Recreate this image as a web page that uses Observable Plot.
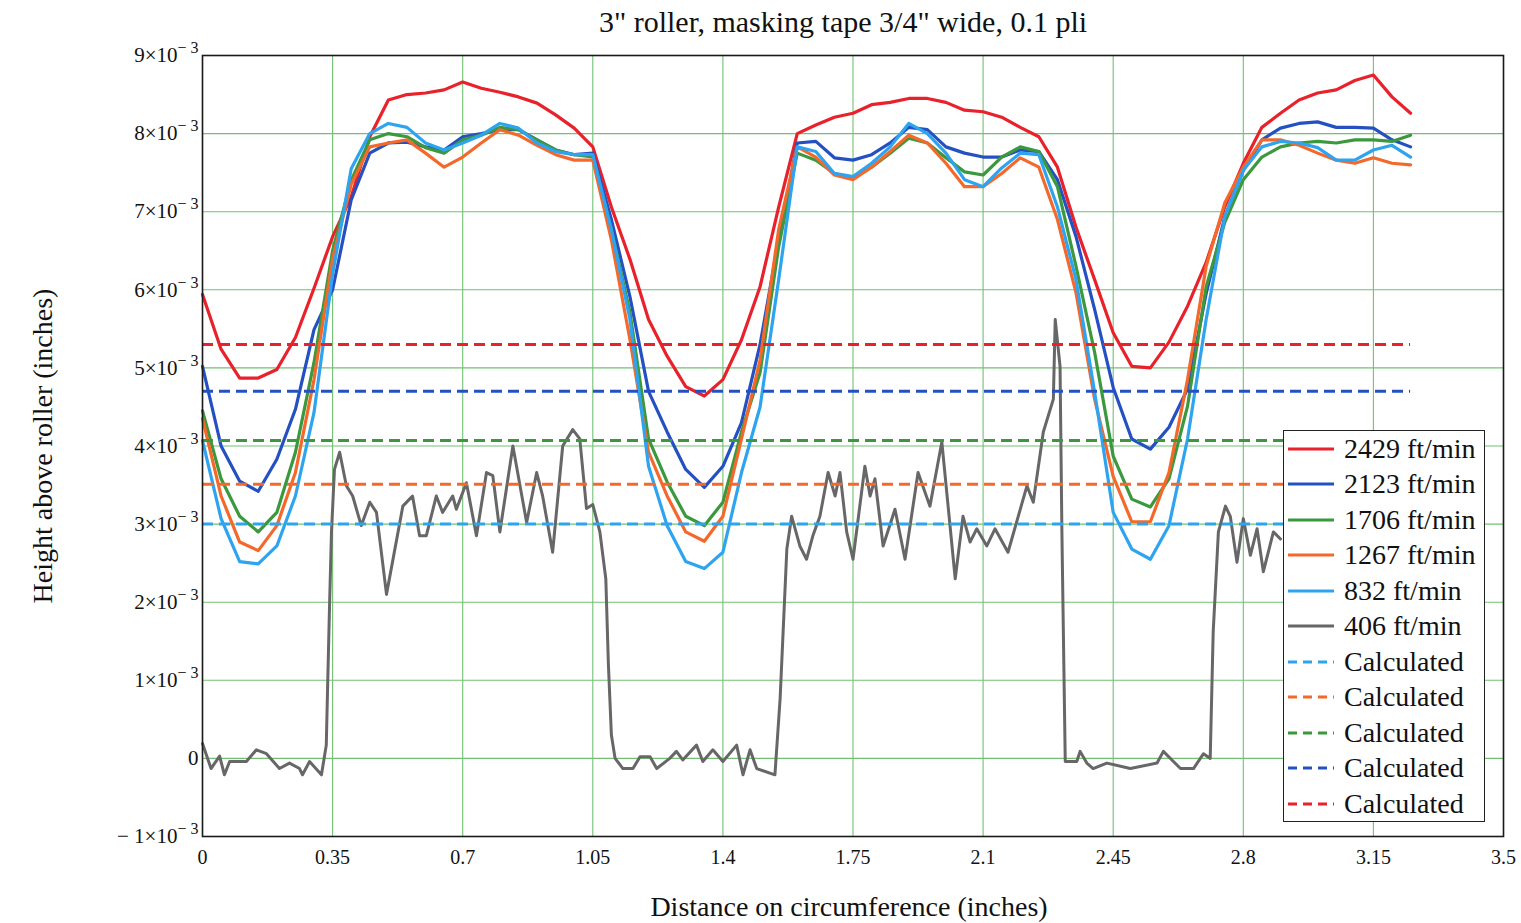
<!DOCTYPE html>
<html><head><meta charset="utf-8">
<script src="https://cdn.jsdelivr.net/npm/d3@7"></script>
<script src="https://cdn.jsdelivr.net/npm/@observablehq/plot@0.6"></script>
<style>
body{margin:0;background:#fff;}
#wrap{position:relative;width:1521px;height:923px;overflow:hidden;font-family:"Liberation Serif",serif;}
#legend{position:absolute;left:1283px;top:430px;width:200px;height:390px;border:1.5px solid #222;background:#fff;box-sizing:content-box;}
.row{height:35.5px;display:flex;align-items:center;font-size:28px;color:#111;}
.row svg{margin-left:4px;margin-right:10px;flex:none;}
</style></head>
<body><div id="wrap"><div id="chart"></div><div id="legend"></div></div>
<script>
// Distance on circumference (inches) sample positions for the measured traces
const dist = [0,0.05,0.1,0.15,0.2,0.25,0.3,0.35,0.4,0.45,0.5,0.55,0.6,0.65,0.7,0.75,0.8,0.85,0.9,0.95,
  1,1.05,1.1,1.15,1.2,1.25,1.3,1.35,1.4,1.45,1.5,1.55,1.6,1.65,1.7,1.75,1.8,1.85,1.9,1.95,
  2,2.05,2.1,2.15,2.2,2.25,2.3,2.35,2.4,2.45,2.5,2.55,2.6,2.65,2.7,2.75,2.8,2.85,2.9,2.95,
  3,3.05,3.1,3.15,3.2,3.25];
// Heights above roller, in units of 10^-3 inch
const h2429 = [5.94,5.24,4.87,4.87,4.98,5.39,6.02,6.68,7.19,7.96,
 8.43,8.50,8.52,8.56,8.66,8.58,8.53,8.47,8.39,8.24,
 8.07,7.83,7.06,6.39,5.62,5.15,4.76,4.64,4.85,5.36,
 6.04,7.06,8.00,8.11,8.21,8.26,8.37,8.40,8.45,8.45,
 8.40,8.30,8.28,8.21,8.08,7.96,7.57,6.80,6.13,5.45,
 5.02,5.00,5.33,5.79,6.35,7.06,7.62,8.08,8.26,8.43,
 8.52,8.56,8.68,8.75,8.47,8.26];
const h2123 = [5.02,4.00,3.55,3.42,3.83,4.47,5.49,6.00,7.15,7.75,
 7.88,7.89,7.83,7.79,7.96,8.00,8.05,8.05,7.92,7.79,
 7.73,7.75,6.90,5.91,4.70,4.18,3.70,3.47,3.74,4.30,
 5.30,6.64,7.88,7.90,7.69,7.66,7.73,7.88,8.08,8.05,
 7.83,7.75,7.70,7.70,7.79,7.77,7.41,6.68,5.75,4.75,
 4.09,3.96,4.24,4.73,5.95,6.93,7.53,7.92,8.07,8.13,
 8.15,8.08,8.08,8.07,7.92,7.83];
const h1706 = [4.45,3.58,3.10,2.90,3.15,3.92,5.07,6.50,7.40,7.92,
 8.00,7.96,7.82,7.75,7.92,7.98,8.08,8.05,7.92,7.79,
 7.73,7.70,6.77,5.71,4.09,3.54,3.10,2.98,3.28,4.18,
 4.94,6.55,7.75,7.66,7.49,7.43,7.57,7.75,7.94,7.88,
 7.69,7.51,7.47,7.70,7.83,7.77,7.32,6.30,5.20,3.87,
 3.32,3.22,3.58,4.51,6.04,6.86,7.41,7.70,7.83,7.88,
 7.90,7.88,7.92,7.92,7.90,7.98];
const h1267 = [4.35,3.36,2.77,2.66,2.98,3.66,4.85,6.40,7.35,7.83,
 7.88,7.92,7.75,7.57,7.70,7.88,8.05,7.98,7.85,7.73,
 7.66,7.66,6.64,5.36,3.92,3.36,2.90,2.78,3.10,4.09,
 5.10,6.77,7.83,7.70,7.47,7.41,7.57,7.77,7.98,7.88,
 7.62,7.32,7.32,7.49,7.69,7.57,6.90,5.96,4.60,3.61,
 3.03,3.03,3.66,4.85,6.30,7.11,7.57,7.92,7.92,7.85,
 7.75,7.66,7.62,7.69,7.62,7.60];
const h832 = [4.07,3.07,2.52,2.49,2.72,3.36,4.43,6.20,7.55,8.00,
 8.13,8.08,7.88,7.79,7.88,7.98,8.13,8.07,7.88,7.77,
 7.73,7.73,6.77,5.62,3.74,2.98,2.52,2.43,2.64,3.66,
 4.50,6.13,7.83,7.77,7.49,7.45,7.62,7.83,8.13,8.00,
 7.75,7.41,7.32,7.56,7.75,7.73,7.06,6.13,4.69,3.15,
 2.68,2.55,2.98,4.09,5.62,6.93,7.53,7.83,7.90,7.88,
 7.82,7.66,7.66,7.79,7.85,7.70];
// 406 ft/min trace (own sample positions)
const dist406 = [0,0.023,0.046,0.059,0.073,0.118,0.145,0.172,0.194,0.207,0.234,0.261,0.269,0.288,0.32,0.333,0.337,0.342,0.347,0.355,
 0.369,0.387,0.404,0.427,0.45,0.468,0.495,0.539,0.557,0.565,0.584,0.602,0.629,0.646,0.673,0.683,0.71,0.737,0.764,0.781,
 0.8,0.835,0.872,0.899,0.915,0.942,0.969,0.996,1.015,1.033,1.05,1.069,1.085,1.092,1.1,1.11,1.131,1.158,1.177,1.204,
 1.222,1.257,1.275,1.292,1.329,1.346,1.373,1.4,1.437,1.454,1.473,1.491,1.54,1.554,1.572,1.585,1.607,1.625,1.642,1.661,
 1.683,1.702,1.715,1.733,1.75,1.782,1.796,1.809,1.831,1.863,1.89,1.925,1.957,1.989,2.025,2.046,2.065,2.083,2.11,2.132,
 2.167,2.218,2.235,2.262,2.289,2.294,2.307,2.312,2.321,2.352,2.361,2.379,2.396,2.433,2.496,2.568,2.585,2.612,2.631,2.666,
 2.693,2.711,2.719,2.733,2.752,2.765,2.783,2.8,2.819,2.837,2.854,2.881,2.9];
const h406 = [0.19,-0.13,0.03,-0.21,-0.04,-0.04,0.11,0.06,-0.06,-0.13,-0.06,-0.13,-0.21,-0.04,-0.21,0.17,1.0,2.0,2.9,3.7,
 3.92,3.49,3.36,2.98,3.28,3.15,2.1,3.23,3.32,3.36,2.85,2.85,3.36,3.15,3.36,3.19,3.53,2.85,3.66,3.62,
 2.9,4.0,3.02,3.66,3.36,2.64,4.0,4.21,4.09,3.2,3.25,2.9,2.3,1.2,0.3,0,-0.13,-0.13,0.02,0.02,
 -0.13,0,0.09,-0.02,0.17,-0.04,0.11,-0.04,0.17,-0.21,0.11,-0.13,-0.21,0.77,2.68,3.1,2.72,2.55,2.85,3.1,
 3.66,3.36,3.66,2.9,2.55,3.74,3.36,3.58,2.72,3.19,2.55,3.66,3.23,4.05,2.3,3.1,2.77,2.94,2.72,2.94,
 2.64,3.49,3.28,4.18,4.6,5.62,5.02,2.9,-0.04,-0.04,0.09,-0.06,-0.13,-0.06,-0.13,-0.06,0.09,-0.04,-0.13,-0.13,
 0.06,0,1.62,2.9,3.23,3.1,2.51,3.07,2.6,2.94,2.39,2.9,2.81];
// Calculated heights (10^-3 in), same order as legend: 832, 1267, 1706, 2123, 2429
const calcHeights = [3.00, 3.51, 4.07, 4.70, 5.30];
const calcRange = [0, 3.25];

const xTicks = [0,0.35,0.7,1.05,1.4,1.75,2.1,2.45,2.8,3.15,3.5];
const xTickLabels = ["0","0.35","0.7","1.05","1.4","1.75","2.1","2.45","2.8","3.15","3.5"];
const yTicks = [-1,0,1,2,3,4,5,6,7,8,9];
const yTickLabels = ["\u2212 1\u00d710^\u2212 3","0","1\u00d710^\u2212 3","2\u00d710^\u2212 3","3\u00d710^\u2212 3","4\u00d710^\u2212 3","5\u00d710^\u2212 3","6\u00d710^\u2212 3","7\u00d710^\u2212 3","8\u00d710^\u2212 3","9\u00d710^\u2212 3"];

const seriesNames = ["2429 ft/min","2123 ft/min","1706 ft/min","1267 ft/min","832 ft/min","406 ft/min"];
const seriesColors = ["#e8212b","#2450c2","#3b983d","#f4692b","#2ea4f0","#676767"];
const calcColors = ["#2ea4f0","#f4692b","#3b983d","#2450c2","#e8212b"];
const titleText = "3\" roller, masking tape 3/4\" wide, 0.1 pli";
const xLabel = "Distance on circumference (inches)";
const yLabel = "Height above roller (inches)";

const measured = [h2429,h2123,h1706,h1267,h832];
const lineMarks = measured.map((arr,k) => Plot.line(arr.map((v,i)=>({x:dist[i],y:v})), {x:"x",y:"y",stroke:seriesColors[k],strokeWidth:3.2}));
lineMarks.push(Plot.line(h406.map((v,i)=>({x:dist406[i],y:v})), {x:"x",y:"y",stroke:seriesColors[5],strokeWidth:3}));
const calcData = calcHeights.map((v,k)=>({y:v,c:calcColors[k]}));

const plot = Plot.plot({
  width:1521, height:923,
  marginTop:55, marginBottom:87, marginLeft:202, marginRight:18,
  style:{fontFamily:"Liberation Serif, serif", background:"#fff", color:"#111"},
  x:{domain:[0,3.5]},
  y:{domain:[-1,9]},
  marks:[
    Plot.gridX(xTicks,{stroke:"#72c172",strokeOpacity:1,strokeWidth:1.1}),
    Plot.gridY(yTicks,{stroke:"#72c172",strokeOpacity:1,strokeWidth:1.1}),
    Plot.axisX(xTicks,{tickSize:0,tickPadding:13,fontSize:20,tickFormat:(d,i)=>xTickLabels[i],label:null}),
    Plot.axisY(yTicks,{tickSize:0,tickPadding:4,fontSize:21,tickFormat:(d,i)=>yTickLabels[i],label:null}),
    ...lineMarks,
    Plot.ruleY(calcData,{y:"y",x1:calcRange[0],x2:calcRange[1],stroke:"c",strokeWidth:3,strokeDasharray:"11,6"}),
    Plot.frame({stroke:"#1a1a1a",strokeWidth:1.6}),
    Plot.text([titleText],{frameAnchor:"top",lineAnchor:"middle",dy:-33,dx:-10,fontSize:30,fill:"#111"}),
    Plot.text([xLabel],{frameAnchor:"bottom",lineAnchor:"middle",dy:71,dx:-4,fontSize:28,fill:"#111"}),
    Plot.text([yLabel],{frameAnchor:"left",textAnchor:"middle",lineAnchor:"middle",dx:-159,rotate:-90,fontSize:28,fill:"#111"})
  ]
});
document.getElementById("chart").appendChild(plot);

// superscript exponents on y tick labels
d3.select(plot).selectAll('g[aria-label="y-axis tick label"] text').each(function(){
  const t = d3.select(this); const s = t.text(); const i = s.indexOf("^");
  if (i < 0) return;
  t.text(null);
  t.append("tspan").text(s.slice(0,i));
  t.append("tspan").attr("dy",-9).attr("font-size",16).text(s.slice(i+1));
});

// legend (inside plot area, opaque)
const legend = d3.select("#legend");
const legendItems = seriesNames.map((n,k)=>({label:n,color:seriesColors[k],dash:null}))
  .concat(calcColors.map(c=>({label:"Calculated",color:c,dash:"9,6"})));
legendItems.forEach(it=>{
  const row = legend.append("div").attr("class","row");
  const s = row.append("svg").attr("width",46).attr("height",8);
  s.append("line").attr("x1",0).attr("x2",46).attr("y1",4).attr("y2",4)
    .attr("stroke",it.color).attr("stroke-width",3.2).attr("stroke-dasharray",it.dash);
  row.append("span").text(it.label);
});
</script></body></html>
